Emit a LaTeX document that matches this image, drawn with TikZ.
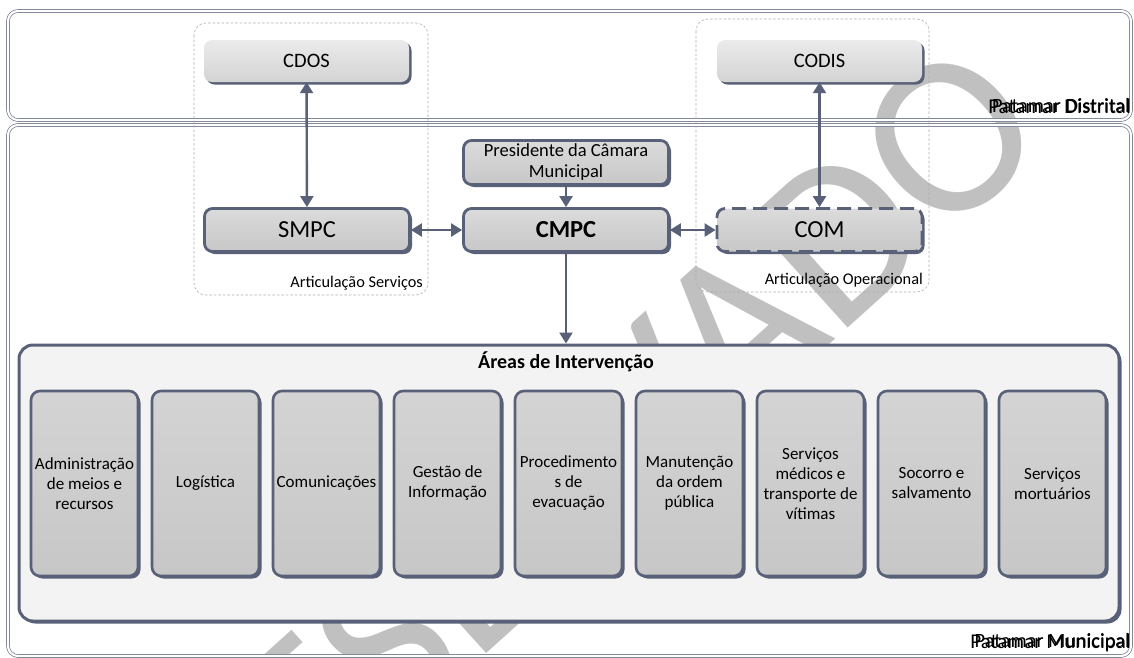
\documentclass[tikz,border=0pt]{standalone}
\usepackage{fontspec}
\setmainfont{Carlito}
\usetikzlibrary{arrows.meta,shadows}
\definecolor{ardosia}{RGB}{89,97,120}
\definecolor{marca}{RGB}{192,192,192}
\definecolor{fundo}{RGB}{243,243,243}
\begin{document}
\begin{tikzpicture}[x=1pt,y=-1pt,
    patamar/.style={draw=ardosia!85,line width=0.7pt,double=white,double distance=2.2pt,rounded corners=10pt},
    articula/.style={draw=gray!65,line width=0.6pt,dash pattern=on 2.5pt off 2pt,rounded corners=12pt},
    sombra/.style={drop shadow={shadow xshift=2.5pt,shadow yshift=-2.5pt,fill=ardosia,opacity=1}},
    distrital/.style={sombra,rounded corners=8pt,minimum width=205pt,minimum height=42pt,
      top color=black!8,bottom color=black!17,font=\fontsize{20.5}{24}\selectfont},
    municipal/.style={sombra,draw=ardosia,line width=2.8pt,rounded corners=8pt,minimum width=205pt,minimum height=43pt,
      top color=black!14,bottom color=black!22,font=\fontsize{24.5}{28}\selectfont},
    area/.style={sombra,draw=ardosia,line width=2.6pt,rounded corners=9pt,minimum width=105pt,minimum height=185pt,
      inner xsep=0pt,text width=107pt,align=flush center,top color=black!17,bottom color=black!22,
      font=\fontsize{17}{20}\selectfont},
    rotulo/.style={inner sep=0pt,font=\fontsize{16.3}{19}\selectfont},
    link/.style={draw=ardosia,line width=2.4pt},
    ponta/.tip={Triangle[length=11pt,width=13pt]}]
  \useasboundingbox (0,0) rectangle (1134,657);
  \node[text=marca,anchor=base,rotate=42,inner sep=0pt,font=\fontsize{230}{230}\selectfont] (selo) at (638,517) {RESERVADO};
  \draw[patamar] (8,11) rectangle (1131,120);
  \draw[patamar] (8,125) rectangle (1131,656);
  \draw[articula] (194,23) rectangle (428,295);
  \draw[articula] (696,19) rectangle (929,292);
  \node[rotulo,anchor=base east] (servicos) at (423,287) {Articulação Serviços};
  \node[rotulo,anchor=base east] (operacional) at (923,284) {Articulação Operacional};
  \node[inner sep=0pt,anchor=base east,font=\fontsize{21}{24}\selectfont] (distA) at (1131,113) {Patamar Distrital};
  \node[inner sep=0pt,anchor=base east,font=\fontsize{20.3}{24}\selectfont] (distB) at (1130,112.5) {Patamar Distrital};
  \node[inner sep=0pt,anchor=base east,font=\fontsize{21}{24}\selectfont] (munA) at (1131,648) {Patamar Municipal};
  \node[inner sep=0pt,anchor=base east,font=\fontsize{20.3}{24}\selectfont] (munB) at (1130,647.5) {Patamar Municipal};
  \node[distrital] (cdos) at (306.5,61) {CDOS};
  \node[distrital] (codis) at (819.5,61) {CODIS};
  \node[municipal,align=center,minimum height=44pt,font=\fontsize{18.5}{21}\selectfont] (pres) at (566,162.5) {Presidente da Câmara\\Municipal};
  \node[municipal] (smpc) at (307,230) {SMPC};
  \node[municipal,font=\fontsize{24.5}{28}\selectfont\bfseries] (cmpc) at (566,230) {CMPC};
  \node[municipal,dash pattern=on 14pt off 7pt] (com) at (819.5,230) {COM};
  \node[sombra,draw=ardosia,line width=3pt,fill=fundo,rounded corners=14pt,minimum width=1100pt,minimum height=276pt] (areas) at (569,483) {};
  \node[inner sep=0pt,font=\fontsize{20}{23}\selectfont\bfseries] (titulo) at (566,362) {Áreas de Intervenção};
  \node[area] (a1) at (84.5,483.5) {Administração\\de meios e\\recursos};
  \node[area] (a2) at (205.5,483.5) {Logística};
  \node[area] (a3) at (326.5,483.5) {Comunicações};
  \node[area] (a4) at (447.5,483.5) {Gestão de\\Informação};
  \node[area] (a5) at (568.5,483.5) {Procedimento\\s de\\evacuação};
  \node[area] (a6) at (689.5,483.5) {Manutenção\\da ordem\\pública};
  \node[area] (a7) at (810.5,483.5) {Serviços\\médicos e\\transporte de\\vítimas};
  \node[area] (a8) at (931.5,483.5) {Socorro e\\salvamento};
  \node[area] (a9) at (1052.5,483.5) {Serviços\\mortuários};
  \begin{scope}[link]
    \draw[ponta-ponta] (cdos) -- (smpc);
    \draw[ponta-ponta] (codis) -- (com);
    \draw[ponta-ponta] (smpc) -- (cmpc);
    \draw[ponta-ponta] (cmpc) -- (com);
    \draw[-ponta] (pres) -- (cmpc);
    \draw[-ponta] (cmpc) -- (cmpc |- areas.north);
  \end{scope}
\end{tikzpicture}
\end{document}
